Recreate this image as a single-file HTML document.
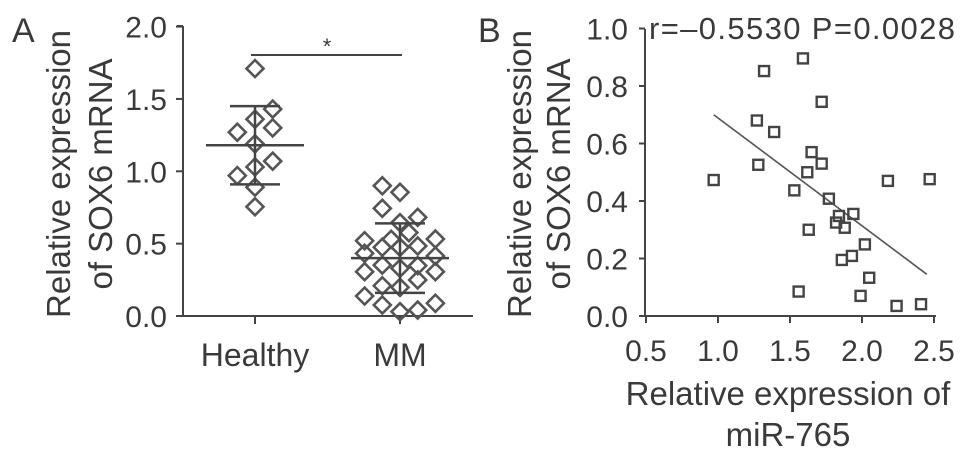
<!DOCTYPE html>
<html><head><meta charset="utf-8"><style>
body{margin:0;background:#fff}
svg text{font-family:"Liberation Sans",sans-serif;fill:#3a3a3a}
</style></head><body>
<svg width="969" height="457" viewBox="0 0 969 457">
<g id="A"></g>
<g id="B"></g>
</svg>
<script>
const NS="http://www.w3.org/2000/svg";
const healthyVals=[1.71,1.43,1.36,1.27,1.30,1.19,1.07,1.03,0.97,0.89,0.755];
const healthyOff=[0,1,0,-1,1,0,1,0,-1,0,0];
const mmVals=[0.90,0.855,0.744,0.682,0.645,0.576,0.52,0.53,0.532,0.433,0.475,0.475,0.484,0.415,0.306,0.352,0.33,0.348,0.306,0.209,0.198,0.249,0.138,0.076,0.03,0.041,0.088];
const mmOff=[-1,0,-1,1,0,0.5,-2,-0.5,2,-2,-1,0,1,2,-2,-1,0,1,2,-1,0,1,-2,-1,0,1,2];
const statsA={healthy:[1.18,1.45,0.91],mm:[0.40,0.64,0.16]};
const yTicksA=["0.0","0.5","1.0","1.5","2.0"];
const catsA=["Healthy","MM"];
const bx=[0.97,1.59,1.32,1.72,1.27,1.39,1.65,1.72,1.28,1.62,2.18,2.47,1.53,1.77,1.84,1.94,1.82,1.88,1.63,2.02,1.93,1.86,2.05,1.56,1.99,2.24,2.41];
const by=[0.473,0.896,0.852,0.745,0.68,0.64,0.57,0.53,0.526,0.50,0.47,0.476,0.437,0.408,0.348,0.355,0.325,0.307,0.30,0.249,0.209,0.195,0.133,0.085,0.07,0.035,0.041];
const fitLine=[[0.97,0.70],[2.45,0.145]];
const xTicksB=["0.5","1.0","1.5","2.0","2.5"];
const yTicksB=["0.0","0.2","0.4","0.6","0.8","1.0"];
function el(p,t,a,txt){const e=document.createElementNS(NS,t);for(const k in a)e.setAttribute(k,a[k]);if(txt!=null)e.textContent=txt;p.appendChild(e);return e;}
const C="#444";
// Panel A
const A=document.getElementById('A');
const yA=v=>316-v*144.7;
const cx=[255,400];
let e;
e=el(A,'text',{x:12,y:42,'font-size':34},'A');

e=el(A,'line',{x1:183,y1:26,x2:183,y2:316,stroke:C,'stroke-width':2});

el(A,'line',{x1:177,y1:26,x2:183,y2:26,stroke:C,'stroke-width':2});
e=el(A,'line',{x1:183,y1:316,x2:473,y2:316,stroke:C,'stroke-width':2});

yTicksA.forEach((t,i)=>{const y=yA(+t);el(A,'line',{x1:176,y1:y,x2:183,y2:y,stroke:C,'stroke-width':2});
e=el(A,'text',{x:167,y:y+11,'font-size':30,'text-anchor':'end'},t);
});
catsA.forEach((c,i)=>{el(A,'line',{x1:cx[i],y1:316,x2:cx[i],y2:324,stroke:C,'stroke-width':2});
e=el(A,'text',{x:cx[i],y:366,'font-size':32,'text-anchor':'middle'},c);
});
e=el(A,'text',{transform:'translate(70,174) rotate(-90)','font-size':33,'text-anchor':'middle'},'Relative expression');

e=el(A,'text',{transform:'translate(112,174) rotate(-90)','font-size':33,'text-anchor':'middle'},'of SOX6 mRNA');

function diamond(x,y){const r=8.5;e=el(A,'polygon',{points:`${x},${y-r} ${x+r},${y} ${x},${y+r} ${x-r},${y}`,fill:'none',stroke:'#555','stroke-width':2.6});
}
healthyVals.forEach((v,i)=>diamond(cx[0]+healthyOff[i]*17.7,yA(v)));
mmVals.forEach((v,i)=>diamond(cx[1]+mmOff[i]*17.7,yA(v)));
[statsA.healthy,statsA.mm].forEach((s,i)=>{const x=cx[i];
e=el(A,'line',{x1:x-49,y1:yA(s[0]),x2:x+49,y2:yA(s[0]),stroke:C,'stroke-width':2.5});

el(A,'line',{x1:x,y1:yA(s[1]),x2:x,y2:yA(s[2]),stroke:C,'stroke-width':2.5});
el(A,'line',{x1:x-25,y1:yA(s[1]),x2:x+25,y2:yA(s[1]),stroke:C,'stroke-width':2.5});
el(A,'line',{x1:x-25,y1:yA(s[2]),x2:x+25,y2:yA(s[2]),stroke:C,'stroke-width':2.5});});
e=el(A,'line',{x1:251,y1:55,x2:402,y2:55,stroke:C,'stroke-width':2});

e=el(A,'text',{x:327,y:54,'font-size':22,'text-anchor':'middle'},'*');

// Panel B
const B=document.getElementById('B');
const xB=v=>646+(v-0.5)*144;
const yB=v=>316-v*287.5;
e=el(B,'text',{x:478,y:42,'font-size':34},'B');

e=el(B,'line',{x1:645,y1:29,x2:645,y2:316,stroke:C,'stroke-width':2});

e=el(B,'line',{x1:645,y1:316,x2:936,y2:316,stroke:C,'stroke-width':2});

yTicksB.forEach(t=>{const y=yB(+t);el(B,'line',{x1:639,y1:y,x2:645,y2:y,stroke:C,'stroke-width':2});
e=el(B,'text',{x:628,y:y+11,'font-size':30,'text-anchor':'end'},t);
});
xTicksB.forEach(t=>{const x=xB(+t);el(B,'line',{x1:x,y1:316,x2:x,y2:323,stroke:C,'stroke-width':2});
e=el(B,'text',{x:x,y:361,'font-size':30,'text-anchor':'middle'},t);
});
e=el(B,'text',{x:788,y:405,'font-size':33,'text-anchor':'middle'},'Relative expression of');

e=el(B,'text',{x:788,y:446,'font-size':33,'text-anchor':'middle'},'miR-765');

e=el(B,'text',{transform:'translate(531,174) rotate(-90)','font-size':33,'text-anchor':'middle'},'Relative expression');

e=el(B,'text',{transform:'translate(570,174) rotate(-90)','font-size':33,'text-anchor':'middle'},'of SOX6 mRNA');

e=el(B,'text',{x:649,y:39,'font-size':31,textLength:306},'r=\u20130.5530  P=0.0028');

e=el(B,'line',{x1:xB(fitLine[0][0]),y1:yB(fitLine[0][1]),x2:xB(fitLine[1][0]),y2:yB(fitLine[1][1]),stroke:'#555','stroke-width':1.6});

bx.forEach((v,i)=>{e=el(B,'rect',{x:xB(v)-5,y:yB(by[i])-5,width:10,height:10,fill:'none',stroke:'#444','stroke-width':2.4});
});
</script>
</body></html>
